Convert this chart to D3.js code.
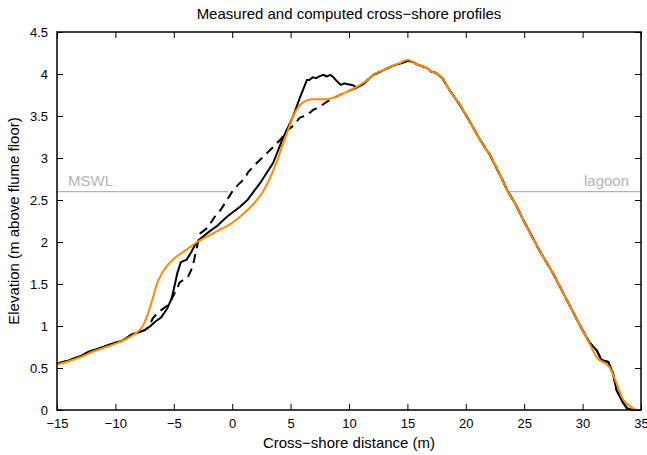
<!DOCTYPE html>
<html>
<head>
<meta charset="utf-8">
<script src="https://cdn.jsdelivr.net/npm/d3@7"></script>
<style>
  body { margin: 0; background: #fff; }
  svg text { font-family: 'Liberation Sans', Arial, Helvetica, sans-serif; }
</style>
</head>
<body>
<div id="chart"></div>
<script>
// measured final profile (solid black)
const measuredX = [-15, -14, -13, -12.3, -11.5, -11, -10.5, -10, -9.5, -9, -8.6, -8.1, -7.5, -7.0, -6.6, -6.1,
  -5.6, -5.2, -4.9, -4.7, -4.4, -3.9, -3.5, -3.2, -2.8, -2.0, -1.3, -0.45, 0.67, 1.3, 2.38, 3.5, 4.35, 5.2,
  5.8, 6.4, 6.6, 6.9, 7.2, 7.4, 7.8, 8.1, 8.4, 8.6, 9.0, 9.3, 9.6, 9.8, 10.26, 10.7, 11.2, 12.1, 13.0, 13.8,
  14.5, 15.05, 15.5, 15.9, 16.7, 17.0, 17.5, 18.0, 18.6, 19.5, 20.4, 21.2, 22.1, 23.0, 23.6, 24.3, 25.0,
  26.3, 27.5, 28.5, 29.5, 30.0, 30.6, 31.2, 31.6, 32.2, 32.6, 32.9, 33.4, 33.8, 34.3, 35];
const measuredY = [0.55, 0.59, 0.64, 0.69, 0.73, 0.75, 0.78, 0.80, 0.82, 0.86, 0.90, 0.92, 0.95, 1.00, 1.05, 1.10,
  1.20, 1.32, 1.50, 1.63, 1.76, 1.79, 1.88, 1.96, 2.03, 2.12, 2.19, 2.30, 2.42, 2.50, 2.70, 2.94, 3.24, 3.49,
  3.72, 3.93, 3.93, 3.96, 3.95, 3.97, 3.99, 3.97, 3.99, 3.97, 3.91, 3.87, 3.89, 3.88, 3.87, 3.84, 3.88, 3.99, 4.05, 4.10,
  4.13, 4.16, 4.14, 4.11, 4.07, 4.03, 4.01, 3.95, 3.81, 3.63, 3.42, 3.22, 3.03, 2.78, 2.60, 2.44, 2.24,
  1.90, 1.62, 1.35, 1.08, 0.95, 0.80, 0.71, 0.60, 0.57, 0.44, 0.24, 0.10, 0.02, 0.0, 0.0];

// initial profile (dashed black), same as the measured one outside the eroded zone
const initialX = [-15, -14, -13, -12.3, -11.5, -11, -10.5, -10, -9.5, -9, -8.6, -8.1, -7.5, -7.2, -6.8, -6.35,
  -5.5, -5.15, -4.7, -4.5, -3.8, -3.4, -2.76, -2.1, -1.5, -1.0, -0.45, 0, 0.5, 1.1, 1.35, 2.1, 2.55, 3.06, 3.66,
  4.26, 4.5, 5.1, 5.8, 6.4, 6.9, 7.5, 8.1, 8.6, 9.5, 10.7, 11.2, 12.1, 13.0, 13.8, 14.5, 15.05, 15.5, 15.9, 16.7,
  17.0, 17.5, 18.0, 18.6, 19.5, 20.4, 21.2, 22.1, 23.0, 23.6, 24.3, 25.0, 26.3, 27.5, 28.5, 29.5, 30.0, 30.6,
  31.2, 31.6, 32.2, 32.6, 32.9, 33.4, 33.8, 34.3, 35];
const initialY = [0.55, 0.59, 0.64, 0.69, 0.73, 0.75, 0.78, 0.80, 0.82, 0.86, 0.90, 0.92, 0.95, 0.98, 1.09, 1.16,
  1.25, 1.33, 1.45, 1.52, 1.58, 1.70, 2.10, 2.17, 2.30, 2.38, 2.50, 2.60, 2.68, 2.76, 2.83, 2.94, 3.00, 3.07, 3.15,
  3.24, 3.31, 3.37, 3.48, 3.51, 3.57, 3.61, 3.67, 3.71, 3.77, 3.84, 3.88, 3.99, 4.05, 4.10, 4.13, 4.16, 4.14, 4.11, 4.07,
  4.03, 4.01, 3.95, 3.81, 3.63, 3.42, 3.22, 3.03, 2.78, 2.60, 2.44, 2.24, 1.90, 1.62, 1.35, 1.08, 0.95, 0.80,
  0.71, 0.60, 0.57, 0.44, 0.24, 0.10, 0.02, 0.0, 0.0];

// computed profile (orange)
const computedX = [-15, -14, -13, -12, -11, -10, -9, -8.3, -7.7, -7.2, -6.8, -6.4, -6.0, -5.5, -5.0, -4.0, -3.0,
  -2.2, -1.0, -0.45, 0.5, 1.3, 2.0, 2.64, 3.2, 3.8, 4.3, 4.7, 5.2, 5.8, 6.3, 6.8, 8.1, 9.2, 10.0, 10.7, 11.5,
  12.1, 13.0, 13.8, 14.5, 15.05, 15.5, 15.9, 16.7, 17.0, 17.5, 18.0, 18.6, 19.5, 20.4, 21.2, 22.1, 23.0, 23.6,
  24.3, 25.0, 26.3, 27.5, 28.5, 29.5, 30.0, 30.6, 31.2, 32.3, 32.9, 33.5, 34.1, 34.7, 35];
const computedY = [0.54, 0.58, 0.63, 0.69, 0.74, 0.79, 0.85, 0.91, 0.99, 1.15, 1.33, 1.52, 1.63, 1.73, 1.80, 1.90, 2.00,
  2.06, 2.15, 2.19, 2.28, 2.38, 2.48, 2.60, 2.75, 2.95, 3.15, 3.30, 3.49, 3.63, 3.68, 3.70, 3.70, 3.75, 3.80, 3.85, 3.92,
  3.99, 4.05, 4.10, 4.14, 4.17, 4.14, 4.11, 4.07, 4.03, 4.01, 3.95, 3.81, 3.63, 3.42, 3.22, 3.03, 2.78, 2.60,
  2.44, 2.24, 1.90, 1.62, 1.35, 1.08, 0.95, 0.79, 0.63, 0.51, 0.32, 0.12, 0.04, 0.0, 0.0];

// still water levels
const mswlX = [-15, -0.35];
const lagoonX = [23.6, 35];
const waterLevel = 2.6;

const xTicks = [-15, -10, -5, 0, 5, 10, 15, 20, 25, 30, 35];
const yTicks = [0, 0.5, 1, 1.5, 2, 2.5, 3, 3.5, 4, 4.5];

const width = 647;
const height = 455;
const margin = { top: 32, right: 6, bottom: 45, left: 57 };
const ORANGE = '#ff8c00';
const GREY = '#b3b3b3';

const x = d3.scaleLinear().domain([-15, 35]).range([margin.left, width - margin.right]);
const y = d3.scaleLinear().domain([0, 4.5]).range([height - margin.bottom, margin.top]);

const svg = d3.select('#chart')
  .append('svg')
  .attr('width', width)
  .attr('height', height);

const toPoints = (xs, ys) => xs.map((v, i) => [v, ys[i]]);
const line = d3.line().x(d => x(d[0])).y(d => y(d[1]));

// water level lines and labels
[mswlX, lagoonX].forEach(xs => {
  svg.append('line')
    .attr('x1', x(xs[0])).attr('x2', x(xs[1]))
    .attr('y1', y(waterLevel)).attr('y2', y(waterLevel))
    .attr('stroke', GREY)
    .attr('stroke-width', 1.2);
});
svg.append('text')
  .attr('x', x(-15) + 11).attr('y', y(waterLevel) - 6)
  .attr('fill', GREY).attr('font-size', 15)
  .text('MSWL');
svg.append('text')
  .attr('x', x(35) - 12).attr('y', y(waterLevel) - 6)
  .attr('text-anchor', 'end')
  .attr('fill', GREY).attr('font-size', 15)
  .text('lagoon');

const plot = svg.append('g');
plot.append('path')
  .datum(toPoints(initialX, initialY))
  .attr('d', line)
  .attr('fill', 'none')
  .attr('stroke', '#000')
  .attr('stroke-width', 2)
  .attr('stroke-dasharray', '9,6');
plot.append('path')
  .datum(toPoints(measuredX, measuredY))
  .attr('d', line)
  .attr('fill', 'none')
  .attr('stroke', '#000')
  .attr('stroke-width', 2);
plot.append('path')
  .datum(toPoints(computedX, computedY))
  .attr('d', d3.line().x(d => x(d[0])).y(d => y(d[1])).curve(d3.curveMonotoneX))
  .attr('fill', 'none')
  .attr('stroke', ORANGE)
  .attr('stroke-width', 2);

// axes with inward ticks on all four sides
const axisStyle = g => {
  g.select('.domain').remove();
  g.selectAll('.tick line').attr('stroke', '#000');
  g.selectAll('.tick text').attr('font-size', 13).attr('fill', '#000');
};
svg.append('g')
  .attr('transform', `translate(0,${height - margin.bottom})`)
  .call(d3.axisBottom(x).tickValues(xTicks).tickSizeInner(-6).tickSizeOuter(0).tickPadding(9)
    .tickFormat(d => d < 0 ? '\u2212' + Math.abs(d) : d))
  .call(axisStyle);
svg.append('g')
  .attr('transform', `translate(0,${margin.top})`)
  .call(d3.axisTop(x).tickValues(xTicks).tickSizeInner(-6).tickSizeOuter(0).tickFormat(''))
  .call(axisStyle);
svg.append('g')
  .attr('transform', `translate(${margin.left},0)`)
  .call(d3.axisLeft(y).tickValues(yTicks).tickSizeInner(-6).tickSizeOuter(0).tickPadding(9)
    .tickFormat(d => String(d)))
  .call(axisStyle);
svg.append('g')
  .attr('transform', `translate(${width - margin.right},0)`)
  .call(d3.axisRight(y).tickValues(yTicks).tickSizeInner(-6).tickSizeOuter(0).tickFormat(''))
  .call(axisStyle);

svg.append('rect')
  .attr('x', margin.left).attr('y', margin.top)
  .attr('width', width - margin.left - margin.right)
  .attr('height', height - margin.top - margin.bottom)
  .attr('fill', 'none')
  .attr('stroke', '#000')
  .attr('stroke-width', 1.5);

svg.append('text')
  .attr('x', (margin.left + width - margin.right) / 2).attr('y', 19)
  .attr('text-anchor', 'middle').attr('font-size', 15)
  .text('Measured and computed cross\u2212shore profiles');
svg.append('text')
  .attr('x', (margin.left + width - margin.right) / 2).attr('y', 448)
  .attr('text-anchor', 'middle').attr('font-size', 15)
  .text('Cross\u2212shore distance (m)');
svg.append('text')
  .attr('transform', `translate(19,${(margin.top + height - margin.bottom) / 2}) rotate(-90)`)
  .attr('text-anchor', 'middle').attr('font-size', 15)
  .text('Elevation (m above flume floor)');
</script>
</body>
</html>
